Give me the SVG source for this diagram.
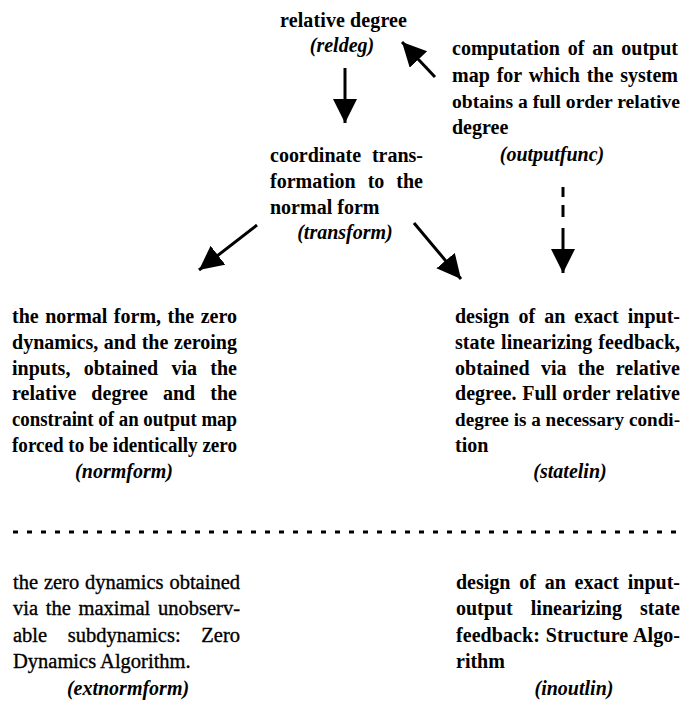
<svg xmlns="http://www.w3.org/2000/svg" width="687" height="703" viewBox="0 0 687 703">
<defs>
<marker id="head" markerUnits="userSpaceOnUse" markerWidth="26" markerHeight="26" refX="24" refY="12" orient="auto">
<path d="M0,0 L24,12 L0,24 z" fill="#000"/>
</marker>
<style>
text{font-family:"Liberation Serif","Times New Roman",serif;font-size:20px;font-weight:bold;fill:#000}
.it{font-style:italic}
.reg{font-weight:normal;font-size:20.5px;stroke:#000;stroke-width:0.35}
.mid{text-anchor:middle}
.arr{stroke:#000;stroke-width:3;fill:none;marker-end:url(#head)}
</style>
</defs>
<rect width="687" height="703" fill="#fff"/>
<g id="connectors">
<line class="arr" x1="345" y1="68" x2="345" y2="123"/>
<line class="arr" x1="435" y1="77" x2="402" y2="42"/>
<line class="arr" x1="257" y1="225" x2="199" y2="270"/>
<line class="arr" x1="414" y1="223" x2="461" y2="279"/>
<path class="arr" d="M563,187 V197 M563,205 V217 M563,228 V273"/>
<line x1="13" y1="532" x2="683" y2="532" stroke="#000" stroke-width="3" stroke-dasharray="5 9"/>
</g>
<g id="reldeg">
<text x="280" y="27" textLength="127" lengthAdjust="spacing">relative degree</text>
<text class="it mid" x="342" y="52">(reldeg)</text>
</g>
<g id="outputfunc">
<text x="452" y="55" word-spacing="2.9" textLength="226" lengthAdjust="spacing">computation of an output</text>
<text x="452" y="82" word-spacing="1.8" textLength="226" lengthAdjust="spacing">map for which the system</text>
<text x="452" y="108" style="font-size:19.6px" textLength="228" lengthAdjust="spacingAndGlyphs">obtains a full order relative</text>
<text x="452" y="134">degree</text>
<text class="it mid" x="552" y="161">(outputfunc)</text>
</g>
<g id="transform">
<text x="270" y="162" word-spacing="5.8" textLength="153" lengthAdjust="spacing">coordinate trans-</text>
<text x="270" y="188" word-spacing="7" textLength="153" lengthAdjust="spacing">formation to the</text>
<text x="270" y="214">normal form</text>
<text class="it mid" x="345" y="239">(transform)</text>
</g>
<g id="normform">
<text x="12" y="323" word-spacing="1.4" textLength="225" lengthAdjust="spacing">the normal form, the zero</text>
<text x="12" y="349" word-spacing="0.6" textLength="225" lengthAdjust="spacing">dynamics, and the zeroing</text>
<text x="12" y="375" word-spacing="8.3" textLength="225" lengthAdjust="spacing">inputs, obtained via the</text>
<text x="12" y="400" word-spacing="10" textLength="225" lengthAdjust="spacing">relative degree and the</text>
<text x="12" y="426" textLength="225" lengthAdjust="spacingAndGlyphs">constraint of an output map</text>
<text x="12" y="452" textLength="225" lengthAdjust="spacingAndGlyphs">forced to be identically zero</text>
<text class="it mid" x="124" y="478">(normform)</text>
</g>
<g id="statelin">
<text x="455" y="323" word-spacing="4" textLength="225" lengthAdjust="spacing">design of an exact input-</text>
<text x="455" y="349" word-spacing="1.1" textLength="225" lengthAdjust="spacing">state linearizing feedback,</text>
<text x="455" y="375" word-spacing="6.3" textLength="225" lengthAdjust="spacing">obtained via the relative</text>
<text x="455" y="400" word-spacing="0.6" textLength="225" lengthAdjust="spacing">degree. Full order relative</text>
<text x="455" y="426" style="font-size:19.2px" textLength="225" lengthAdjust="spacingAndGlyphs">degree is a necessary condi-</text>
<text x="455" y="452">tion</text>
<text class="it mid" x="570" y="478">(statelin)</text>
</g>
<g id="extnormform">
<text class="reg" x="13" y="589" word-spacing="0.7" textLength="227" lengthAdjust="spacing">the zero dynamics obtained</text>
<text class="reg" x="13" y="615" word-spacing="2.6" textLength="227" lengthAdjust="spacing">via the maximal unobserv-</text>
<text class="reg" x="13" y="642" word-spacing="15.6" textLength="227" lengthAdjust="spacing">able subdynamics: Zero</text>
<text class="reg" x="13" y="668">Dynamics Algorithm.</text>
<text class="it mid" x="128" y="695">(extnormform)</text>
</g>
<g id="inoutlin">
<text x="456" y="589" word-spacing="3.8" textLength="224" lengthAdjust="spacing">design of an exact input-</text>
<text x="456" y="615" word-spacing="13.1" textLength="224" lengthAdjust="spacing">output linearizing state</text>
<text x="456" y="642" word-spacing="0.9" textLength="224" lengthAdjust="spacing">feedback: Structure Algo-</text>
<text x="456" y="668">rithm</text>
<text class="it mid" x="574" y="695">(inoutlin)</text>
</g>
</svg>
